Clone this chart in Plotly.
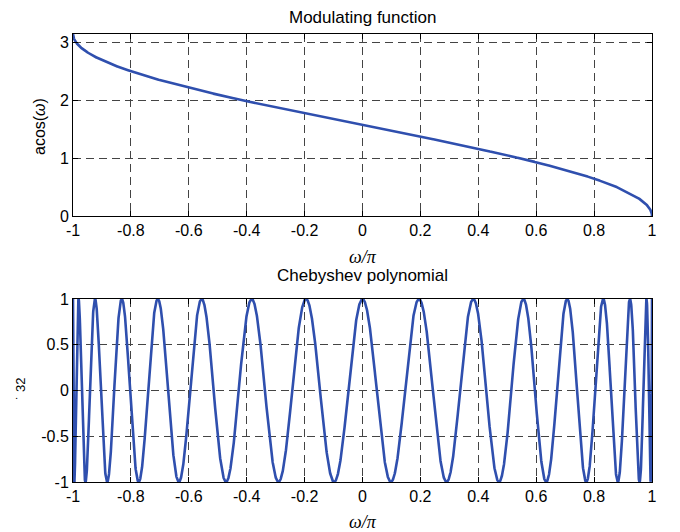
import numpy as np
import plotly.graph_objects as go

# Data
omega = np.linspace(-1.0, 1.0, 4001)        # normalized frequency ω/π
order = 32                                    # Chebyshev order
modulating = np.arccos(omega)                 # acos(ω)
chebyshev = np.cos(order * modulating)        # T_32(ω)

x_ticks = [-1, -0.8, -0.6, -0.4, -0.2, 0, 0.2, 0.4, 0.6, 0.8, 1]
x_tick_text = ["-1", "-0.8", "-0.6", "-0.4", "-0.2", "0", "0.2", "0.4", "0.6", "0.8", "1"]
y1_ticks = [0, 1, 2, 3]
y2_ticks = [-1, -0.5, 0, 0.5, 1]
y2_tick_text = ["-1", "-0.5", "0", "0.5", "1"]

# page body has an 8px margin; figure coordinates are offset accordingly
W, H = 672, 524
LINE = "#2f4fae"
FONT = "Liberation Sans, Arial, sans-serif"
SERIF = "Liberation Serif, Times New Roman, serif"
GRID_DASH = "8px,5px"

fig = go.Figure()
fig.add_trace(go.Scatter(x=omega, y=modulating, mode="lines",
                         line=dict(color=LINE, width=2.6), xaxis="x", yaxis="y", showlegend=False))
fig.add_trace(go.Scatter(x=omega, y=chebyshev, mode="lines",
                         line=dict(color=LINE, width=2.6), xaxis="x2", yaxis="y2", showlegend=False))

xd = [65 / W, 644 / W]
common_x = dict(range=[-1, 1], tickvals=x_ticks, ticktext=x_tick_text, ticks="inside", ticklen=5,
                tickcolor="black", showline=True, linecolor="black", linewidth=1, mirror="ticks",
                showgrid=True, gridcolor="#444444", griddash=GRID_DASH, gridwidth=1, zeroline=False,
                automargin=False, tickfont=dict(family=FONT, size=16, color="black"), domain=xd)
common_y = dict(ticks="inside", ticklen=5, tickcolor="black", showline=True, linecolor="black",
                linewidth=1, mirror="ticks", showgrid=True, gridcolor="#444444", griddash=GRID_DASH,
                gridwidth=1, zeroline=False, automargin=False,
                tickfont=dict(family=FONT, size=16, color="black"))

fig.update_layout(
    width=W, height=H, margin=dict(l=0, r=0, t=0, b=0, autoexpand=False),
    paper_bgcolor="white", plot_bgcolor="white",
    xaxis=dict(**common_x, anchor="y"),
    yaxis=dict(**common_y, range=[0, np.pi], tickvals=y1_ticks,
               domain=[1 - 208 / H, 1 - 26 / H], anchor="x"),
    xaxis2=dict(**common_x, anchor="y2"),
    yaxis2=dict(**common_y, range=[-1, 1], tickvals=y2_ticks, ticktext=y2_tick_text,
                domain=[1 - 474 / H, 1 - 291 / H], anchor="x2"),
)

cx = (65 + 644) / 2 / W
ann = [
    dict(text="Modulating function", x=cx, y=1 - 9 / H, font=dict(family=FONT, size=17)),
    dict(text="Chebyshev polynomial", x=cx, y=1 - 267 / H, font=dict(family=FONT, size=17)),
    dict(text="<i>ω/π</i>", x=cx, y=1 - 249 / H, font=dict(family=SERIF, size=18)),
    dict(text="<i>ω/π</i>", x=cx, y=1 - 514 / H, font=dict(family=SERIF, size=18)),
    dict(text="acos(<i>ω</i>)", x=32 / W, y=1 - 119 / H, textangle=-90, font=dict(family=FONT, size=16)),
    dict(text="˙ 32", x=12 / W, y=1 - 381 / H, textangle=-90, font=dict(family=FONT, size=13)),
]
for a in ann:
    fig.add_annotation(xref="paper", yref="paper", showarrow=False, xanchor="center", yanchor="middle",
                       font_color="black", **a)

fig.write_html("out.html")
